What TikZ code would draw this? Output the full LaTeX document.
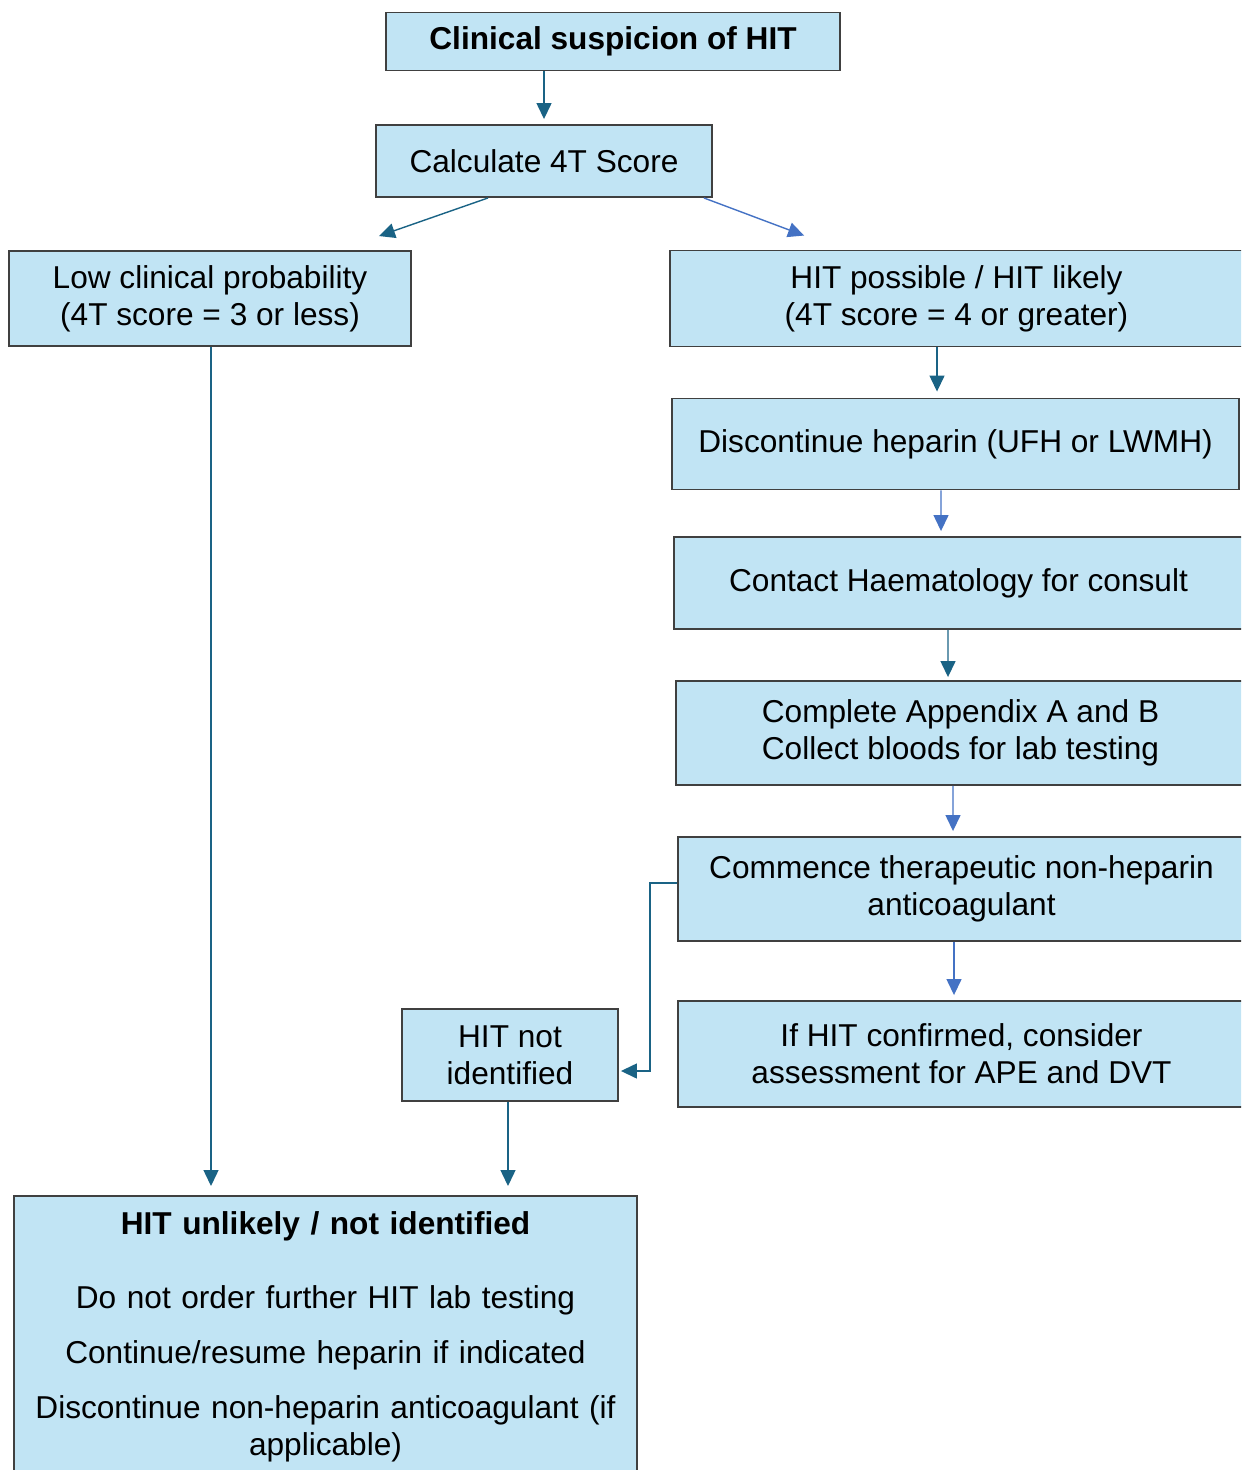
\documentclass[tikz,border=0pt]{standalone}
\usepackage{fontspec}
\setmainfont{Liberation Sans}
\usetikzlibrary{arrows.meta,calc}

\definecolor{boxfill}{HTML}{C1E4F4}
\definecolor{boxline}{HTML}{404040}
\definecolor{tealarr}{HTML}{1A6385}
\definecolor{bluearr}{HTML}{4472C4}

\tikzset{
  flowbox/.style={draw=boxline,line width=1.1pt,fill=boxfill,align=center,inner sep=0pt,
    font=\fontsize{18}{21}\selectfont},
  tealline/.style={draw=tealarr,line width=0.8pt,-{Triangle[length=0.32cm,width=0.3cm]}},
  blueline/.style={draw=bluearr,line width=0.8pt,-{Triangle[length=0.32cm,width=0.3cm]}}
}

\begin{document}
\begin{tikzpicture}[x=0.02cm,y=-0.02cm]
      \useasboundingbox (0,0) rectangle (1241,1470);
      \clip (0,0) rectangle (1241,1470);

      % boxes
      \node[flowbox,minimum width=9.08cm,minimum height=1.16cm] (suspicion) at (613,41.5) {\textbf{Clinical suspicion of HIT}};
      \node[flowbox,minimum width=6.72cm,minimum height=1.44cm] (calc) at (544,161) {Calculate 4T Score};
      \node[flowbox,minimum width=8.04cm,minimum height=1.90cm] (low) at (210,298.5) {Low clinical probability\\(4T score = 3 or less)};
      \node[flowbox,minimum width=11.46cm,minimum height=1.92cm] (possible) at (956.5,298.5) {HIT possible / HIT likely\\(4T score = 4 or greater)};
      \node[flowbox,minimum width=11.34cm,minimum height=1.82cm] (discont) at (955.5,444) {Discontinue heparin (UFH or LWMH)};
      \node[flowbox,minimum width=11.38cm,minimum height=1.84cm] (contact) at (958.5,583) {Contact Haematology for consult};
      \node[flowbox,minimum width=11.38cm,minimum height=2.08cm] (appendix) at (960.5,733) {Complete Appendix A and B\\Collect bloods for lab testing};
      \node[flowbox,minimum width=11.34cm,minimum height=2.08cm] (commence) at (961.5,889) {Commence therapeutic non-heparin\\anticoagulant};
      \node[flowbox,minimum width=11.34cm,minimum height=2.12cm] (confirmed) at (961.5,1054) {If HIT confirmed, consider\\assessment for APE and DVT};
      \node[flowbox,minimum width=4.32cm,minimum height=1.84cm] (notid) at (510,1055) {HIT not\\identified};
      \node[flowbox,anchor=north,text width=12.46cm,inner ysep=0.32cm] (unlikely) at (325.5,1195)
        {\textbf{HIT unlikely / not identified}\\[0.74cm]
         Do not order further HIT lab testing\\[0.36cm]
         Continue/resume heparin if indicated\\[0.36cm]
         Discontinue non-heparin anticoagulant (if\\
         applicable)};

      % connectors
      \draw[tealline,shorten >=0.1cm] (suspicion.south -| calc.north) -- (calc.north);
      \draw[tealline] ([xshift=-1.12cm]calc.south) -- ([xshift=-0.66cm,yshift=0.28cm]low.north east);
      \draw[blueline] ([xshift=-0.18cm]calc.south east) -- ([xshift=2.7cm,yshift=0.28cm]possible.north west);
      \draw[tealline,shorten >=0.12cm] ([xshift=-0.39cm]possible.south) -- ([xshift=-0.37cm]discont.north);
      \draw[blueline,shorten >=0.1cm] ([xshift=-0.29cm]discont.south) -- ([xshift=-0.35cm]contact.north);
      \draw[tealline,shorten >=0.06cm] ([xshift=-0.21cm]contact.south) -- ([xshift=-0.25cm]appendix.north);
      \draw[blueline,shorten >=0.1cm] ([xshift=-0.15cm]appendix.south) -- ([xshift=-0.17cm]commence.north);
      \draw[blueline,shorten >=0.1cm] ([xshift=-0.15cm]commence.south) -- ([xshift=-0.15cm]confirmed.north);
      \draw[tealline,shorten >=0.04cm] ([yshift=0.12cm]commence.west) -- ++(-0.54cm,0) |- ([yshift=-0.32cm]notid.east);
      \draw[tealline,shorten >=0.18cm] ([xshift=0.02cm]low.south) -- ([xshift=0.02cm]low.south |- unlikely.north);
      \draw[tealline,shorten >=0.18cm] ([xshift=-0.04cm]notid.south) -- ([xshift=-0.04cm]notid.south |- unlikely.north);
    \end{tikzpicture}
\end{document}
